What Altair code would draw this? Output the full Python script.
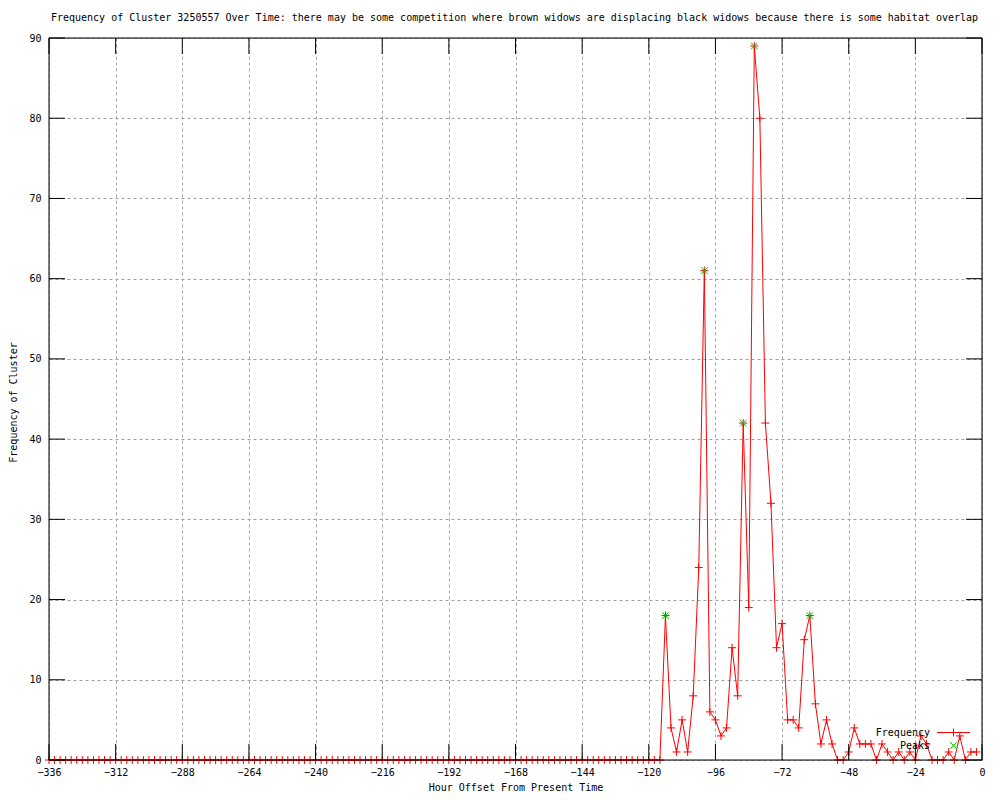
import altair as alt
import pandas as pd

# ---- data ----
hours = list(range(-336, 0, 2))  # -336 ... -2, every 2 hours
freq_flat = [0] * 111  # -336 .. -116 all zero
freq_active = [18, 4, 1, 5, 1, 8, 24, 61, 6, 5,
               3, 4, 14, 8, 42, 19, 89, 80, 42, 32,
               14, 17, 5, 5, 4, 15, 18, 7, 2, 5,
               2, 0, 0, 1, 4, 2, 2, 2, 0, 2,
               1, 0, 1, 0, 1, 0, 3, 2, 0, 0,
               0, 1, 0, 3, 0, 1, 1]
frequency = freq_flat + freq_active

peak_hours = [-114, -100, -86, -82, -62]
peak_values = [18, 61, 42, 89, 18]

x_ticks = [-336, -312, -288, -264, -240, -216, -192, -168, -144, -120, -96, -72, -48, -24, 0]
y_ticks = [0, 10, 20, 30, 40, 50, 60, 70, 80, 90]

title_text = ("Frequency of Cluster 3250557 Over Time: there may be some competition "
              "where brown widows are displacing black widows because there is some habitat overlap")

# ---- layout ----
W, H = 933, 722
FONT = "DejaVu Sans Mono"
RED = "#ff0000"
GREEN = "#00c000"
PLUS = "M-1,0L1,0M0,-1L0,1"
CROSS = "M-1,-1L1,1M-1,1L1,-1"

df = pd.DataFrame({"hour": hours, "freq": frequency})
peaks = pd.DataFrame({"hour": peak_hours, "freq": peak_values})
xt = pd.DataFrame({"t": x_ticks})
yt = pd.DataFrame({"v": y_ticks})
one = pd.DataFrame({"k": [0]})

xscale = alt.Scale(domain=[-336, 0], nice=False, zero=False)
yscale = alt.Scale(domain=[0, 90], nice=False)

xaxis = alt.Axis(values=x_ticks, grid=True, ticks=False, tickSize=0, domain=False,
                 gridColor="#a0a0a0", gridDash=[3, 3], gridWidth=1,
                 labelFont=FONT, labelFontSize=10, labelColor="black", labelPadding=7,
                 labelFlush=False, labelOverlap=False,
                 title="Hour Offset From Present Time", titleFont=FONT, titleFontSize=10,
                 titleFontWeight="normal", titleColor="black",
                 titleX=W / 2, titleY=27, titleAlign="center", titleBaseline="middle")
yaxis = alt.Axis(values=y_ticks, grid=True, ticks=False, tickSize=0, domain=False,
                 gridColor="#a0a0a0", gridDash=[3, 3], gridWidth=1,
                 labelFont=FONT, labelFontSize=10, labelColor="black", labelPadding=8,
                 labelFlush=False, labelOverlap=False,
                 title="Frequency of Cluster", titleFont=FONT, titleFontSize=10,
                 titleFontWeight="normal", titleColor="black",
                 titleX=-36, titleY=364, titleAngle=270, titleAlign="center", titleBaseline="middle")

line = alt.Chart(df).mark_line(color=RED, strokeWidth=1).encode(
    x=alt.X("hour:Q", scale=xscale, axis=xaxis),
    y=alt.Y("freq:Q", scale=yscale, axis=yaxis),
)
pts = alt.Chart(df).mark_point(shape=PLUS, size=64, color=RED, filled=False,
                               strokeWidth=1, opacity=1).encode(
    x=alt.X("hour:Q", scale=xscale), y=alt.Y("freq:Q", scale=yscale))
pk = alt.Chart(peaks).mark_point(shape=CROSS, size=42, color=GREEN, filled=False,
                                 strokeWidth=1, opacity=1).encode(
    x=alt.X("hour:Q", scale=xscale), y=alt.Y("freq:Q", scale=yscale))

TICK = 16
tb = alt.Chart(xt).mark_rule(color="black", strokeWidth=1).encode(
    x=alt.X("t:Q", scale=xscale), y=alt.value(H), y2=alt.value(H - TICK))
tt = alt.Chart(xt).mark_rule(color="black", strokeWidth=1).encode(
    x=alt.X("t:Q", scale=xscale), y=alt.value(0), y2=alt.value(TICK))
tl = alt.Chart(yt).mark_rule(color="black", strokeWidth=1).encode(
    y=alt.Y("v:Q", scale=yscale), x=alt.value(0), x2=alt.value(TICK))
tr = alt.Chart(yt).mark_rule(color="black", strokeWidth=1).encode(
    y=alt.Y("v:Q", scale=yscale), x=alt.value(W), x2=alt.value(W - TICK))

border = alt.Chart(one).mark_rect(filled=False, stroke="black", strokeWidth=1).encode(
    x=alt.value(0), x2=alt.value(W), y=alt.value(0), y2=alt.value(H))

# chart title drawn as a text mark (fixed position above the plot)
ttl = alt.Chart(one).mark_text(text=title_text, font=FONT, fontSize=10, align="center",
                               baseline="middle", color="black").encode(
    x=alt.value(W / 2 - 1), y=alt.value(-20))

# legend (drawn by hand, gnuplot style: label left, sample right)
leg_t1 = alt.Chart(one).mark_text(text="Frequency", font=FONT, fontSize=10, align="right",
                                  baseline="middle", color="black").encode(
    x=alt.value(881), y=alt.value(694.5))
leg_l1 = alt.Chart(one).mark_rule(color=RED, strokeWidth=1).encode(
    x=alt.value(888), x2=alt.value(921), y=alt.value(694.5))
leg_p1 = alt.Chart(one).mark_point(shape=PLUS, size=64, color=RED, filled=False,
                                   strokeWidth=1, opacity=1).encode(
    x=alt.value(904.5), y=alt.value(694.5))
leg_t2 = alt.Chart(one).mark_text(text="Peaks", font=FONT, fontSize=10, align="right",
                                  baseline="middle", color="black").encode(
    x=alt.value(881), y=alt.value(707.5))
leg_p2 = alt.Chart(one).mark_point(shape=CROSS, size=42, color=GREEN, filled=False,
                                   strokeWidth=1, opacity=1).encode(
    x=alt.value(904.5), y=alt.value(707.5))

chart = alt.layer(
    line, pts, pk, tb, tt, tl, tr, border, ttl, leg_t1, leg_l1, leg_p1, leg_t2, leg_p2
).properties(
    width=W, height=H,
    autosize=alt.AutoSizeParams(type="none"),
    padding={"left": 41, "top": 30, "right": 10, "bottom": 32},
).configure_view(stroke=None).configure(background="white")

chart.save("out.html", embed_options={"renderer": "svg", "actions": False})
